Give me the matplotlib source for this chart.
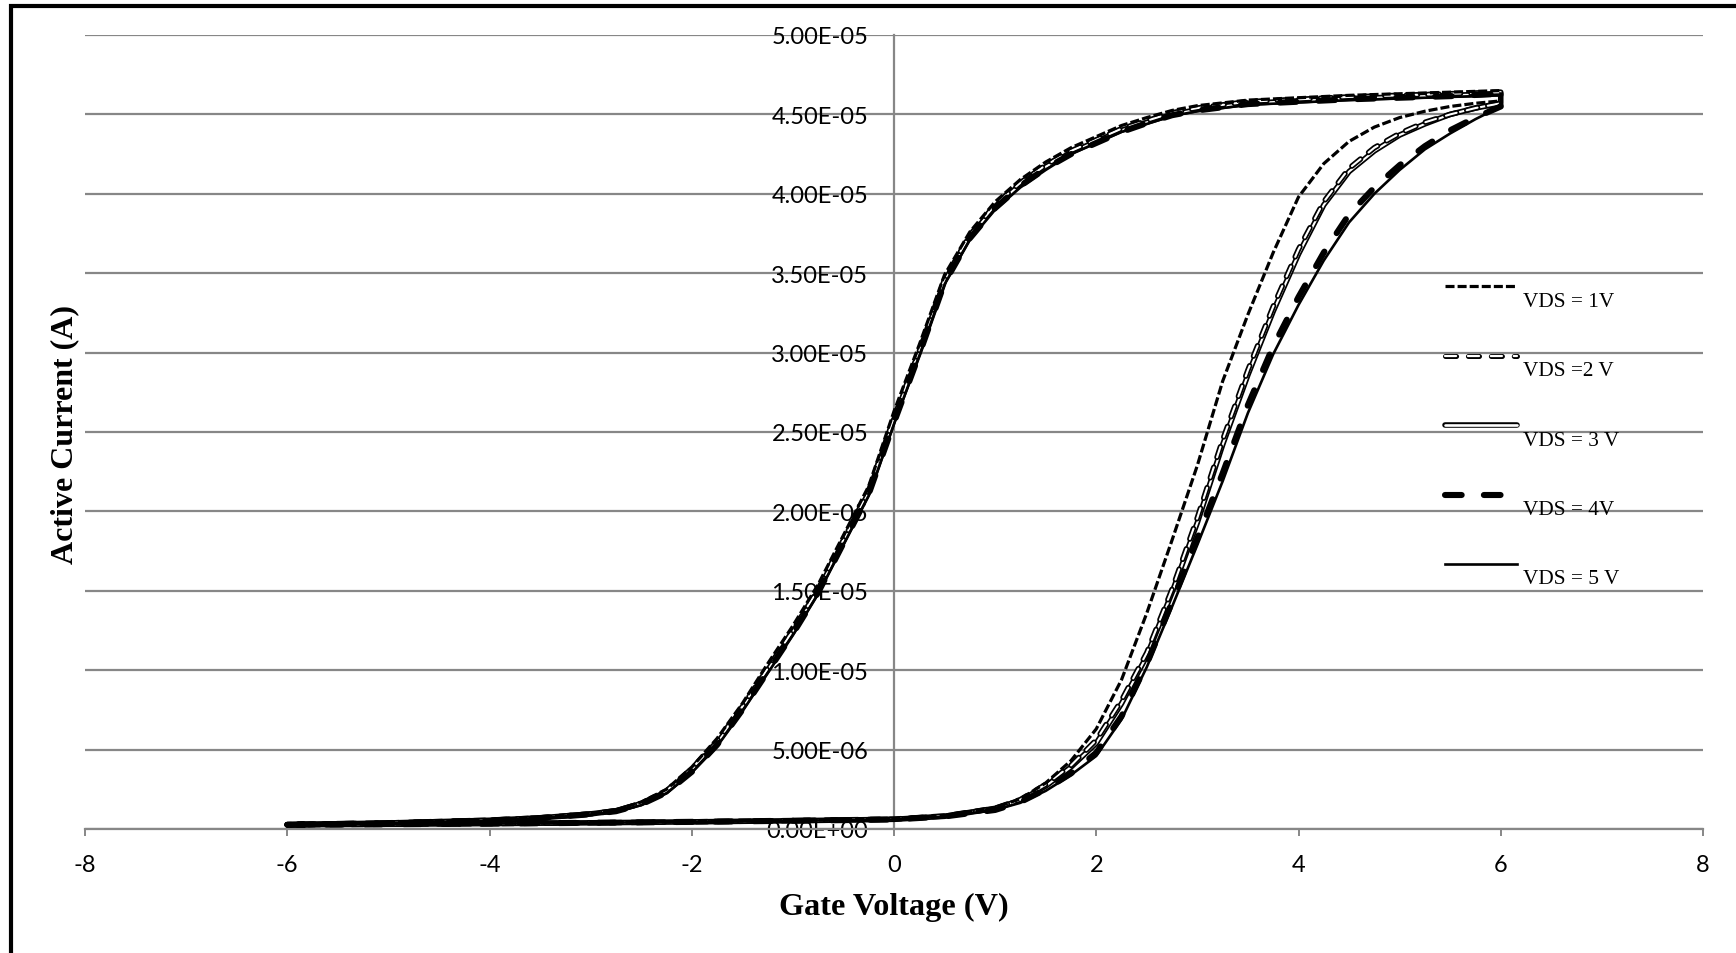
import matplotlib
matplotlib.use("Agg")
import matplotlib.pyplot as plt
import numpy as np
from matplotlib.lines import Line2D
from matplotlib.legend_handler import HandlerTuple
from matplotlib.ticker import FuncFormatter, MultipleLocator
from matplotlib.patches import Rectangle

plt.rcParams['axes.unicode_minus'] = False
plt.rcParams['lines.scale_dashes'] = False

# ---------------- data (currents in microamps) ----------------
v_fwd = [-6, -5, -4, -3, -2, -1, 0, 0.5, 1, 1.25, 1.5, 1.75, 2, 2.25, 2.5, 2.75, 3,
         3.25, 3.5, 3.75, 4, 4.25, 4.5, 4.75, 5, 5.25, 5.5, 5.75, 6]
v_rev = [6, 5.5, 5, 4.5, 4, 3.5, 3, 2.75, 2.5, 2.25, 2, 1.75, 1.5, 1.25, 1, 0.75, 0.5,
         0.25, 0, -0.25, -0.5, -0.75, -1, -1.25, -1.5, -1.75, -2, -2.25, -2.5, -2.75,
         -3, -3.5, -4, -5, -6]

vds1_fwd = [0.27, 0.31, 0.35, 0.40, 0.46, 0.54, 0.64, 0.85, 1.35, 1.9, 2.9, 4.3, 6.3, 9.4,
            13.6, 18.2, 22.9, 28.2, 32.4, 36.3, 39.8, 41.9, 43.3, 44.2, 44.8, 45.2, 45.5,
            45.7, 45.85]
vds2_fwd = [0.27, 0.30, 0.34, 0.39, 0.45, 0.53, 0.62, 0.82, 1.3, 1.85, 2.8, 4.0, 5.6, 8.1,
            11.1, 15.1, 19.6, 24.5, 28.9, 32.9, 36.5, 39.5, 41.6, 42.9, 43.8, 44.5, 45.0,
            45.4, 45.7]
vds3_fwd = [0.27, 0.30, 0.34, 0.39, 0.45, 0.52, 0.61, 0.80, 1.3, 1.8, 2.7, 3.9, 5.4, 7.9,
            10.9, 14.9, 19.3, 24.2, 28.6, 32.6, 36.2, 39.3, 41.4, 42.7, 43.7, 44.4, 45.0,
            45.4, 45.7]
vds4_fwd = [0.27, 0.30, 0.34, 0.39, 0.45, 0.52, 0.60, 0.79, 1.2, 1.7, 2.5, 3.5, 4.8, 7.1,
            10.4, 14.3, 18.3, 22.4, 26.7, 30.4, 33.5, 36.3, 38.7, 40.4, 41.8, 43.0, 44.0,
            44.8, 45.5]
vds5_fwd = [0.27, 0.30, 0.34, 0.39, 0.45, 0.52, 0.60, 0.78, 1.2, 1.65, 2.4, 3.4, 4.6, 6.9,
            10.2, 14.0, 17.9, 21.9, 26.2, 29.9, 33.0, 35.8, 38.2, 40.0, 41.5, 42.8, 43.8,
            44.7, 45.5]

vds1_rev = [46.5, 46.4, 46.3, 46.2, 46.05, 45.9, 45.55, 45.25, 44.8, 44.3, 43.6, 42.9, 42.0,
            40.9, 39.5, 37.6, 34.9, 30.5, 26.3, 21.6, 18.5, 15.4, 12.8, 10.4, 7.9, 5.7, 3.9,
            2.5, 1.7, 1.2, 0.98, 0.72, 0.56, 0.39, 0.27]
vds2_rev = [46.4, 46.3, 46.2, 46.1, 45.95, 45.8, 45.4, 45.1, 44.6, 44.1, 43.4, 42.7, 41.8,
            40.7, 39.3, 37.4, 34.6, 30.1, 25.9, 21.3, 18.2, 15.1, 12.5, 10.1, 7.7, 5.5, 3.8,
            2.4, 1.6, 1.15, 0.95, 0.70, 0.55, 0.38, 0.27]
vds3_rev = [46.3, 46.2, 46.1, 46.0, 45.85, 45.7, 45.3, 45.0, 44.5, 44.0, 43.3, 42.6, 41.7,
            40.6, 39.2, 37.3, 34.5, 30.0, 25.8, 21.2, 18.1, 15.0, 12.4, 10.0, 7.6, 5.4, 3.7,
            2.35, 1.6, 1.15, 0.95, 0.70, 0.55, 0.38, 0.27]
vds4_rev = [46.3, 46.15, 46.05, 45.95, 45.8, 45.65, 45.25, 44.95, 44.45, 43.9, 43.2, 42.5,
            41.6, 40.5, 39.1, 37.2, 34.4, 29.9, 25.6, 21.1, 18.0, 14.9, 12.3, 9.9, 7.5, 5.3,
            3.6, 2.3, 1.55, 1.12, 0.93, 0.69, 0.54, 0.37, 0.27]
vds5_rev = [46.2, 46.1, 46.0, 45.9, 45.75, 45.6, 45.2, 44.9, 44.4, 43.9, 43.2, 42.5, 41.5,
            40.4, 39.0, 37.1, 34.3, 29.8, 25.5, 21.0, 17.9, 14.8, 12.2, 9.8, 7.4, 5.2,
            3.55, 2.25, 1.5, 1.1, 0.92, 0.68, 0.53, 0.37, 0.27]

labels = ["VDS = 1V", "VDS =2 V", "VDS = 3 V", "VDS = 4V", "VDS = 5 V"]
x_ticks = [-8, -6, -4, -2, 0, 2, 4, 6, 8]

# ---------------- figure ----------------
W, H = 1736, 954
fig = plt.figure(figsize=(W / 100, H / 100), dpi=100)
ax = fig.add_axes([85 / W, 1 - 830 / H, (1703 - 85) / W, (830 - 36) / H])

grid_c = '#878787'


def series(fwd, rev):
    x = np.array(v_fwd + v_rev, dtype=float)
    y = np.array(fwd + rev, dtype=float) * 1e-6
    return x, y


x1, y1 = series(vds1_fwd, vds1_rev)
x2, y2 = series(vds2_fwd, vds2_rev)
x3, y3 = series(vds3_fwd, vds3_rev)
x4, y4 = series(vds4_fwd, vds4_rev)
x5, y5 = series(vds5_fwd, vds5_rev)

rnd = dict(solid_capstyle='round', solid_joinstyle='round')
# VDS = 3V : hollow solid
ax.plot(x3, y3, color='black', lw=4.0, zorder=3, **rnd)
ax.plot(x3, y3, color='white', lw=1.5, zorder=3.1, **rnd)
# VDS = 2V : hollow dashes
ax.plot(x2, y2, color='black', lw=4.0, dashes=(8, 7.5), dash_capstyle='round', zorder=4)
ax.plot(x2, y2, color='white', lw=1.5, dashes=(8, 7.5), dash_capstyle='round', zorder=4.1)
# VDS = 1V : thin dashes
ax.plot(x1, y1, color='black', lw=2.3, dashes=(6.5, 2.2), zorder=5)
# VDS = 4V : thick long dashes
ax.plot(x4, y4, color='black', lw=4.4, dashes=(12, 16), dash_capstyle='round', zorder=6)
# VDS = 5V : thin solid
ax.plot(x5, y5, color='black', lw=1.9, zorder=7, **rnd)

ax.set_xlim(-8, 8)
ax.set_ylim(0, 5e-5)
ax.set_xticks(x_ticks)
ax.yaxis.set_major_locator(MultipleLocator(5e-6))
ax.yaxis.set_major_formatter(FuncFormatter(lambda v, p: "%.2E" % v))

for s in ['top', 'right']:
    ax.spines[s].set_visible(False)
ax.spines['left'].set_position(('data', 0))
ax.spines['left'].set_color(grid_c)
ax.spines['left'].set_linewidth(1.6)
ax.spines['bottom'].set_color(grid_c)
ax.spines['bottom'].set_linewidth(1.6)
ax.spines['left'].set_zorder(0.5)

ax.grid(axis='y', color=grid_c, lw=1.6, zorder=0)
ax.set_axisbelow(True)

ax.tick_params(axis='x', length=5, width=1.4, color=grid_c, pad=13,
               labelsize=17, labelfontfamily='Lato')
ax.tick_params(axis='y', length=0, pad=18.5, labelsize=17, labelfontfamily='Lato')

fig.text(894 / W, 1 - 907 / H, "Gate Voltage (V)", ha='center', va='center',
         family='Liberation Serif', weight='bold', fontsize=23.2)
fig.text(65 / W, 1 - 435 / H, "Active Current (A)", ha='center', va='center',
         rotation=90, family='Liberation Serif', weight='bold', fontsize=23.0)

# legend proxies (styles as drawn in the chart's legend)
h1 = Line2D([], [], color='black', lw=2.3, dashes=(6.5, 2.2))
h2a = Line2D([], [], color='black', lw=3.6, dashes=(8, 8.5), dash_capstyle='round')
h2b = Line2D([], [], color='white', lw=1.6, dashes=(8, 8.5), dash_capstyle='round')
h3a = Line2D([], [], color='black', lw=4.0, solid_capstyle='round')
h3b = Line2D([], [], color='white', lw=1.9, solid_capstyle='round')
h4 = Line2D([], [], color='black', lw=4.4, dashes=(12, 16), dash_capstyle='round')
h5 = Line2D([], [], color='black', lw=1.9)

leg = ax.legend([h1, (h2a, h2b), (h3a, h3b), h4, h5], labels,
                handler_map={tuple: HandlerTuple(ndivide=1, pad=0)},
                loc='upper left', bbox_to_anchor=(1445 / W, 1 - 280 / H),
                bbox_transform=fig.transFigure, frameon=False,
                prop={'family': 'Liberation Serif', 'size': 15.3},
                handlelength=3.4, handletextpad=0.25, labelspacing=2.33,
                borderaxespad=0, borderpad=0)
for t in leg.get_texts():
    t.set_position((0, -12))

# outer border
fig.patches.append(Rectangle((11 / W, -1.0), 2.0, 2.0 - 7 / H,
                             transform=fig.transFigure, fill=False,
                             edgecolor='black', lw=3.0, zorder=10))

fig.savefig("out.png", dpi=100)
